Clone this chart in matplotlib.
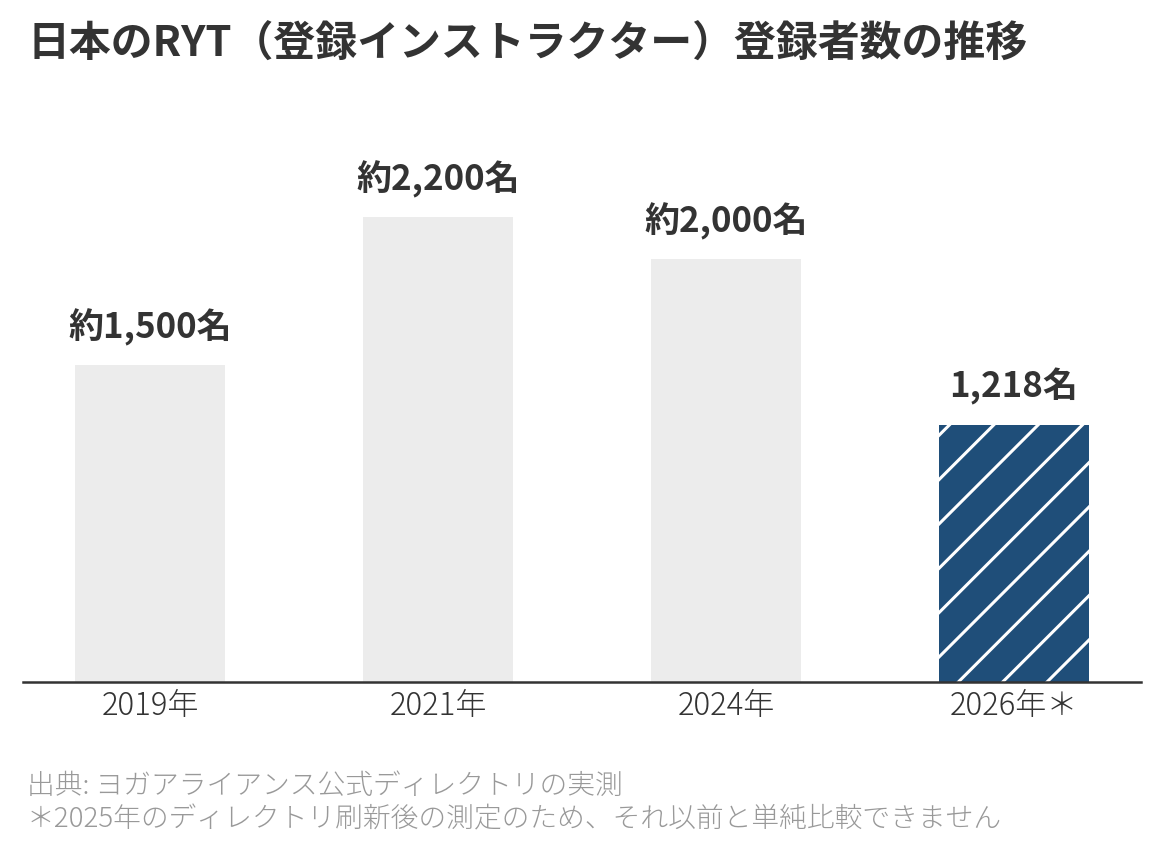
import matplotlib
matplotlib.use("Agg")
import matplotlib.pyplot as plt

DPI = 400 / 3
S = 200 / DPI  # point-size scale relative to a 200 dpi layout

plt.rcParams['font.family'] = ['Noto Sans CJK JP', 'DejaVu Sans']
plt.rcParams['hatch.linewidth'] = 1.1 * S

categories = ["2019年", "2021年", "2024年", "2026年＊"]
values = [1500, 2200, 2000, 1218]
value_labels = ["約1,500名", "約2,200名", "約2,000名", "1,218名"]
title = "日本のRYT（登録インストラクター）登録者数の推移"
note1 = "出典: ヨガアライアンス公式ディレクトリの実測"
note2 = "＊2025年のディレクトリ刷新後の測定のため、それ以前と単純比較できません"

fig = plt.figure(figsize=(1164 / DPI, 857 / DPI), dpi=DPI)
fig.patch.set_facecolor('white')

ax = fig.add_axes([23 / 1164, 175 / 857, (1141 - 23) / 1164, 507 / 857])
x = list(range(len(categories)))
colors = ['#ececec', '#ececec', '#ececec', '#1f4e79']
hatches = [None, None, None, '/']
for xi, v, c, h in zip(x, values, colors, hatches):
    ax.bar(xi, v, width=0.52, color=c, hatch=h, edgecolor='white',
           linewidth=0, zorder=2)

for xi, v, lab in zip(x, values, value_labels):
    ax.annotate(lab, (xi, v), xytext=(0, 13.7 * S), textcoords='offset points',
                ha='center', va='center', fontsize=12.6 * S, fontweight='bold', color='#333333')

ax.set_xlim(-0.441, 3.441)
ax.set_ylim(0, 2400)
ax.set_xticks(x)
ax.set_xticklabels(categories, fontsize=11.2 * S, color='#333333', fontweight='light')
ax.tick_params(axis='x', length=0, pad=3 * S)
ax.set_yticks([])
for s in ['top', 'right', 'left']:
    ax.spines[s].set_visible(False)
ax.spines['bottom'].set_color('#333333')
ax.spines['bottom'].set_linewidth(0.9 * S)
ax.spines['bottom'].set_zorder(3)
ax.set_facecolor('none')

fig.text(28 / 1164, 1 - 45 / 857, title, fontsize=15.1 * S, fontweight='bold',
         color='#333333', ha='left', va='center')
fig.text(27 / 1164, 1 - 786 / 857, note1, fontsize=10.0 * S, fontweight='light',
         color='#999999', ha='left', va='center')
fig.text(27 / 1164, 1 - 819 / 857, note2, fontsize=10.0 * S, fontweight='light',
         color='#999999', ha='left', va='center')

fig.savefig('out.png', dpi=DPI)
